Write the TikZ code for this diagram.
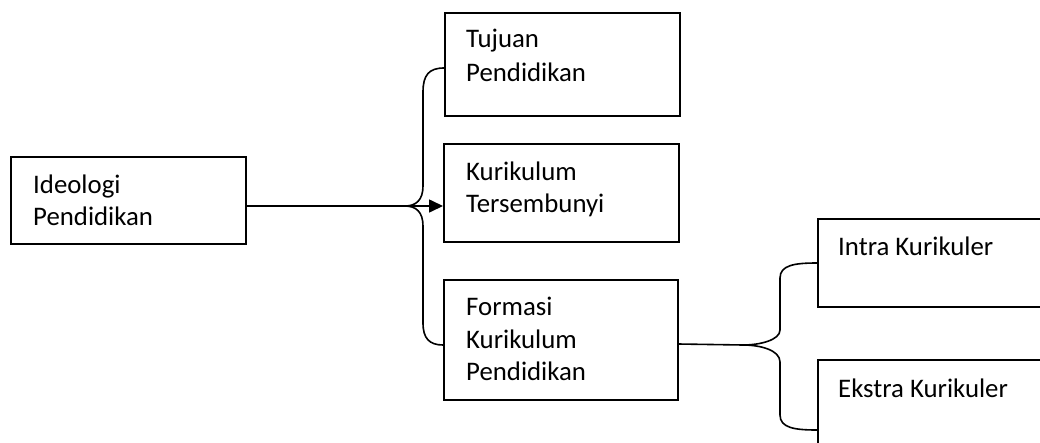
\documentclass[tikz,border=0pt]{standalone}
\usepackage{fontspec}
\setmainfont{Carlito}
\usetikzlibrary{arrows.meta,calc}
\tikzset{
  box/.style={draw, line width=1.5pt, anchor=north west, inner sep=0pt},
  lbl/.style={anchor=base west, inner sep=0pt, font=\fontsize{26.8}{33}\selectfont},
  conn/.style={line width=1.6pt},
}
\begin{document}
\begin{tikzpicture}[x=1pt, y=-1pt]
\useasboundingbox (0,0) rectangle (1040,442);
\clip (0,0) rectangle (1040,442);
% boxes
\node[box, minimum width=235pt, minimum height=87pt]  (ideo)  at (10,156) {};
\node[box, minimum width=235pt, minimum height=103pt] (tuj)   at (444,12) {};
\node[box, minimum width=235pt, minimum height=98pt]  (kur)   at (443,143) {};
\node[box, minimum width=234pt, minimum height=120pt] (form)  at (443,279) {};
\node[box, minimum width=260pt, minimum height=88pt]  (intra) at (817,218) {};
\node[box, minimum width=260pt, minimum height=110pt] (ekstra) at (817,359) {};
% labels
\node[lbl] (l1a) at (33,193) {Ideologi};
\node[lbl] (l1b) at (33,225) {Pendidikan};
\node[lbl] (l2a) at (466,47) {Tujuan};
\node[lbl] (l2b) at (466,81) {Pendidikan};
\node[lbl] (l3a) at (466,180) {Kurikulum};
\node[lbl] (l3b) at (466,212) {Tersembunyi};
\node[lbl] (l4a) at (466,315) {Formasi};
\node[lbl] (l4b) at (466,348) {Kurikulum};
\node[lbl] (l4c) at (466,380) {Pendidikan};
\node[lbl] (l5)  at (838,255) {Intra Kurikuler};
\node[lbl] (l6)  at (838,397) {Ekstra Kurikuler};
% coordinates
\coordinate (tipA) at (405,206);
\coordinate (tipB) at (743,345);
% main arrow
\draw[conn, -{Triangle[length=14pt,width=13pt]}] (ideo.east |- tipA) -- (kur.west |- tipA);
% brace 1
\draw[conn] ($(tuj.north west)+(0,56)$) .. controls (429,68) and (423,75) .. (423,92)
  -- (423,186) .. controls (423,200) and (416,206) .. (tipA)
  .. controls (416,206) and (423,212) .. (423,226)
  -- (423,323) .. controls (423,338) and (429,345) .. ($(form.north west)+(0,66)$);
% line from Formasi
\draw[conn] (form.east |- 0,344) -- (tipB);
% brace 2
\draw[conn] ($(intra.north west)+(0,45)$) .. controls (795,263) and (780,265) .. (780,278)
  -- (780,330) .. controls (780,340) and (760,345) .. (tipB)
  .. controls (760,345) and (780,350) .. (780,362)
  -- (780,415) .. controls (780,428) and (795,430) .. ($(ekstra.north west)+(0,71)$);
\end{tikzpicture}
\end{document}
